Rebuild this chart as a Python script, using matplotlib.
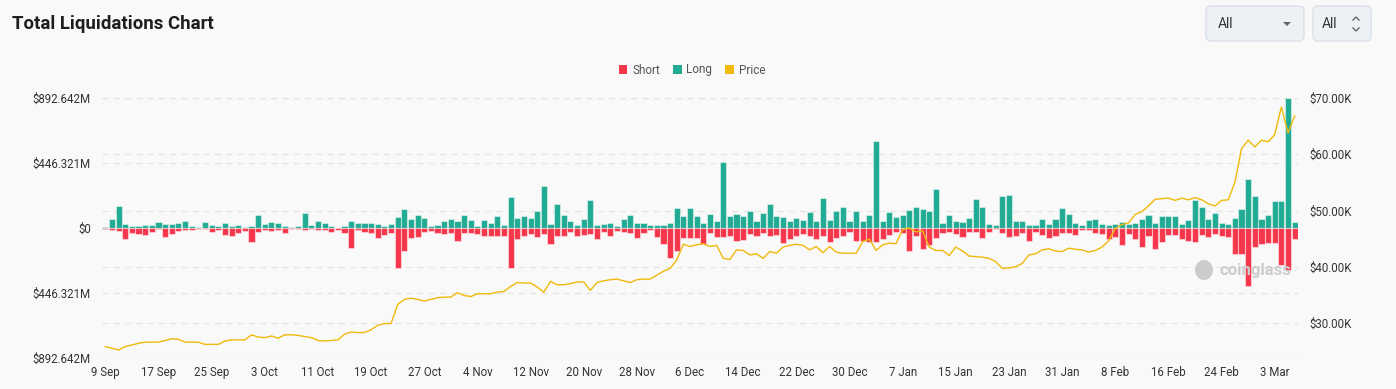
import numpy as np
import pandas as pd
import matplotlib
matplotlib.use("Agg")
import matplotlib.pyplot as plt
from matplotlib.patches import FancyBboxPatch, Patch, Polygon, Ellipse
from matplotlib.lines import Line2D
from matplotlib.transforms import IdentityTransform

# daily liquidations (millions USD) from 9 Sep 2023 to 6 Mar 2024
dates = pd.date_range("2023-09-09", periods=180, freq="D")

long_liq = [
    7, 60, 150, 28, 16, 12, 21, 21, 39, 25, 25, 37, 51, 12, 5, 39, 23, 14, 37, 16,
    18, 7, 12, 87, 30, 41, 35, 16, 7, 16, 104, 18, 46, 37, 14, 2, 14, 51, 37, 32,
    32, 28, 16, 28, 74, 133, 60, 87, 71, 16, 18, 46, 64, 46, 90, 58, 14, 58, 32, 83,
    23, 216, 67, 81, 67, 115, 290, 30, 166, 92, 48, 18, 62, 189, 21, 30, 32, 12, 62, 90,
    37, 37, 21, 21, 21, 37, 140, 85, 136, 81, 35, 94, 46, 455, 81, 99, 83, 115, 51, 101,
    168, 83, 76, 51, 67, 53, 110, 51, 207, 58, 120, 143, 46, 115, 48, 87, 594, 48, 113, 78,
    92, 122, 147, 129, 115, 271, 35, 87, 46, 39, 71, 196, 143, 25, 21, 219, 230, 48, 48, 23,
    21, 60, 28, 64, 136, 97, 37, 21, 55, 64, 28, 23, 30, 41, 28, 35, 62, 92, 35, 85,
    81, 81, 28, 53, 193, 145, 62, 106, 35, 30, 71, 133, 336, 223, 62, 87, 184, 182, 892.6, 41,
]
short_liq = [
    7, 14, 18, 76, 35, 44, 46, 28, 7, 60, 41, 21, 12, 16, 7, 9, 28, 14, 48, 58,
    32, 21, 94, 25, 14, 21, 14, 35, 9, 7, 14, 7, 14, 12, 28, 12, 35, 136, 16, 28,
    32, 67, 51, 35, 272, 156, 71, 60, 28, 23, 37, 41, 37, 90, 35, 35, 44, 58, 53, 53,
    53, 276, 76, 55, 44, 60, 41, 108, 53, 53, 25, 53, 46, 39, 78, 28, 53, 21, 28, 32,
    69, 32, 16, 62, 108, 205, 156, 71, 71, 71, 110, 35, 62, 62, 55, 87, 83, 41, 53, 32,
    55, 48, 106, 78, 58, 44, 53, 78, 53, 94, 71, 53, 30, 87, 87, 94, 94, 76, 51, 25,
    37, 156, 58, 145, 115, 71, 35, 28, 44, 60, 28, 28, 69, 25, 9, 35, 64, 53, 35, 92,
    28, 46, 69, 53, 37, 37, 46, 14, 14, 35, 44, 78, 62, 115, 44, 76, 133, 58, 143, 97,
    48, 48, 78, 87, 97, 51, 60, 41, 58, 62, 177, 179, 396, 131, 113, 101, 101, 251, 285, 76,
]
# BTC price, thousands USD
price = [
    25.8, 25.5, 25.2, 25.8, 26.1, 26.4, 26.6, 26.6, 26.6, 26.9, 27.2, 27.1, 26.6, 26.6, 26.6,
    26.2, 26.2, 26.2, 26.8, 27.0, 27.0, 27.0, 27.9, 27.5, 27.4, 27.7, 27.3, 27.9, 27.9, 27.8,
    27.6, 27.4, 26.9, 26.8, 26.9, 27.0, 28.0, 28.4, 28.3, 28.3, 28.8, 29.6, 29.9, 29.9, 33.3,
    34.2, 34.4, 34.2, 33.9, 34.2, 34.5, 34.6, 34.6, 35.4, 34.9, 34.7, 35.2, 35.2, 35.2, 35.5,
    35.6, 36.5, 37.2, 37.1, 37.1, 36.4, 35.5, 37.4, 36.8, 36.8, 37.0, 37.3, 37.3, 35.8, 37.2,
    37.5, 37.7, 37.8, 37.5, 37.2, 37.7, 37.8, 37.8, 38.5, 39.2, 39.7, 41.2, 44.0, 43.6, 43.9,
    44.1, 43.6, 43.8, 41.5, 41.3, 43.0, 42.9, 42.1, 42.3, 41.5, 42.7, 42.4, 43.5, 43.8, 44.0,
    43.8, 43.0, 43.6, 42.5, 43.6, 42.6, 42.4, 42.4, 42.4, 44.5, 44.9, 42.9, 43.9, 44.2, 44.1,
    46.6, 46.9, 46.2, 46.4, 43.5, 42.9, 42.9, 42.0, 43.5, 42.8, 41.9, 41.8, 41.7, 41.5, 40.9,
    39.7, 39.8, 40.0, 40.6, 42.1, 42.3, 43.0, 43.2, 42.8, 42.7, 43.3, 43.1, 43.0, 42.6, 42.9,
    43.5, 44.6, 46.8, 47.5, 47.8, 49.3, 49.8, 50.8, 52.0, 52.1, 52.2, 51.8, 52.2, 51.9, 52.3,
    51.9, 51.2, 50.8, 51.8, 51.9, 55.0, 61.0, 62.5, 61.3, 62.5, 62.2, 63.5, 68.4, 63.8, 66.8,
]

left_ticks = [-892.642, -446.321, 0, 446.321, 892.642]
right_ticks = [30, 40, 50, 60, 70]

BG = "#f9f9f9"
RED = "#f6374b"
GREEN = "#22ab94"
GOLD = "#f0b90b"
GRID = "#e4e4e4"
TXT = "#333333"
W, H = 1396, 389

plt.rcParams["font.family"] = ["Roboto", "DejaVu Sans"]

fig = plt.figure(figsize=(W / 100, H / 100), dpi=100, facecolor=BG)
ax = fig.add_axes([102 / W, 1 - 358 / H, (1298 - 102) / W, (358 - 98) / H])
ax.set_facecolor(BG)
ax2 = ax.twinx()

x = np.arange(len(dates))
ax.bar(x, long_liq, width=0.92, color=GREEN, edgecolor=(1, 1, 1, 0.45), linewidth=0.8, zorder=3)
ax.bar(x, -np.array(short_liq), width=0.92, color=RED, edgecolor=(1, 1, 1, 0.45), linewidth=0.8, zorder=3)
ax2.plot(x, price, color=GOLD, lw=1.0, solid_joinstyle="round")

ax.set_xlim(-0.5, len(dates) - 0.5)
ax.set_ylim(-892.642, 892.642)
ax2.set_ylim(70 - 260 / 5.625, 70)

# gridlines for both scales, behind the bars
for v in left_ticks:
    ax.axhline(v, color=GRID, lw=0.9, ls=(0, (5, 4)), zorder=0)
for v in right_ticks:
    ax.add_line(Line2D([0, 1], [v, v], transform=ax2.get_yaxis_transform(),
                       color=GRID, lw=0.9, ls=(0, (5, 4)), zorder=0))

ax.set_yticks(left_ticks)
ax.set_yticklabels(["$0" if v == 0 else f"${abs(v):.3f}M" for v in left_ticks])
ax2.set_yticks(right_ticks)
ax2.set_yticklabels([f"${v:.2f}K" for v in right_ticks])
tick_idx = x[::8]
ax.set_xticks(tick_idx)
ax.set_xticklabels([f"{dates[i].day} {dates[i].strftime('%b')}" for i in tick_idx])

for a in (ax, ax2):
    for s in a.spines.values():
        s.set_visible(False)
    a.tick_params(length=0, labelsize=8.3, colors=TXT)
ax.tick_params(axis="y", pad=8)
ax.tick_params(axis="x", pad=6)
ax2.tick_params(axis="y", pad=8)

# title
fig.text(12 / W, 1 - 24 / H, "Total Liquidations Chart", fontsize=13.4, fontweight="bold",
         color="#1e1e1e", va="center", ha="left")

# legend
handles = [Patch(facecolor=RED, label="Short"), Patch(facecolor=GREEN, label="Long"),
           Patch(facecolor=GOLD, label="Price")]
fig.legend(handles=handles, loc="center", bbox_to_anchor=(692 / W, 1 - 70 / H), ncol=3,
           frameon=False, fontsize=8.5, handlelength=0.75, handleheight=0.75,
           handletextpad=0.4, columnspacing=1.1, labelcolor="#555555")

# selector boxes (pixel coordinates, origin bottom-left)
def box(x0, y0, x1, y1):
    fig.add_artist(FancyBboxPatch((x0, H - y1), x1 - x0, y1 - y0,
                                  boxstyle="round,pad=0,rounding_size=5",
                                  facecolor="#edf1f5", edgecolor="#d9e0e7", lw=1,
                                  transform=IdentityTransform()))

box(1206, 6, 1304, 41)
box(1313, 6, 1371, 41)
fig.text(1218 / W, 1 - 24 / H, "All", fontsize=10, color=TXT, va="center")
fig.text(1322 / W, 1 - 24 / H, "All", fontsize=10, color=TXT, va="center")
fig.add_artist(Polygon([[1283, H - 22], [1291, H - 22], [1287, H - 26]], closed=True,
                       facecolor="#666666", edgecolor="none", transform=IdentityTransform()))
fig.add_artist(Line2D([1353, 1356, 1359], [H - 20, H - 17, H - 20], color="#666666", lw=1,
                      transform=IdentityTransform()))
fig.add_artist(Line2D([1353, 1356, 1359], [H - 28, H - 31, H - 28], color="#666666", lw=1,
                      transform=IdentityTransform()))

# watermark
fig.add_artist(Ellipse((1204, H - 270), 18, 20, facecolor="#cccccc", edgecolor="none",
                       transform=IdentityTransform()))
fig.text(1220 / W, 1 - 271 / H, "coinglass", fontsize=12, fontweight="bold",
         color="#cccccc", va="center", ha="left")

fig.savefig("out.png", dpi=100, facecolor=BG)
